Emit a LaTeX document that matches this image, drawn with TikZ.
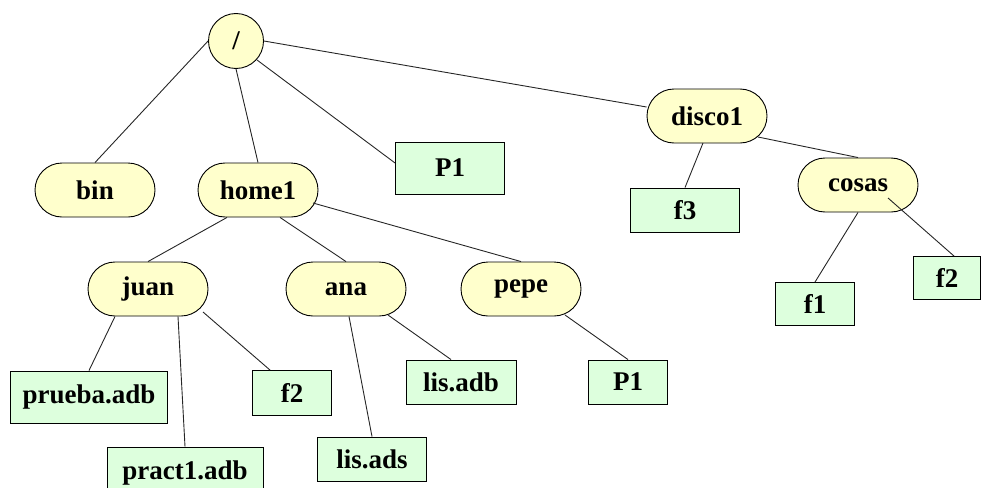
\documentclass[tikz,border=0pt]{standalone}
\usepackage{fontspec}
\setmainfont{Liberation Serif}
\usetikzlibrary{shapes.misc,calc}
\definecolor{dirfill}{HTML}{FFFFCC}
\definecolor{filefill}{HTML}{DDFFDD}
\begin{document}
\begin{tikzpicture}[x=1pt,y=-1pt,
  every node/.style={font=\fontsize{27}{30}\selectfont\bfseries, inner sep=0pt},
  dirnode/.style={rounded rectangle, draw=black, line width=0.9pt, fill=dirfill, minimum width=120pt, minimum height=54pt},
  rootnode/.style={circle, draw=black, line width=0.9pt, fill=dirfill, minimum size=55pt},
  filenode/.style={rectangle, draw=black, line width=0.9pt, fill=filefill},
  link/.style={line width=0.9pt, draw=black!85}]
\useasboundingbox (0,0) rectangle (981,487);
\clip (0,0) rectangle (981,487);
% edges drawn first (behind nodes)
\node[rootnode] (root) at (236,41) {/};
\node[dirnode] (bin) at (95,190) {bin};
\node[dirnode] (home1) at (258,190) {home1};
\node[dirnode] (disco1) at (707,116) {disco1};
\node[dirnode] (cosas) at (858,185) {cosas};
\node[dirnode] (juan) at (148,289) {juan};
\node[dirnode] (ana) at (346,289) {ana};
\node[dirnode] (pepe) at (521,289) {pepe};
\node[filenode, minimum width=109pt, minimum height=52pt] (P1a) at (450,168) {P1};
\node[filenode, minimum width=109pt, minimum height=44pt] (f3) at (685,210) {f3};
\node[filenode, minimum width=79pt, minimum height=43pt] (f1) at (815,304) {f1};
\node[filenode, minimum width=67pt, minimum height=43pt] (f2b) at (947,278) {f2};
\node[filenode, minimum width=157pt, minimum height=52pt] (prueba) at (89,397) {prueba.adb};
\node[filenode, minimum width=156pt, minimum height=52pt] (pract1) at (185,473) {pract1.adb};
\node[filenode, minimum width=79pt, minimum height=45pt] (f2a) at (292,393) {f2};
\node[filenode, minimum width=110pt, minimum height=44pt] (lisadb) at (461,382) {lis.adb};
\node[filenode, minimum width=109pt, minimum height=44pt] (lisads) at (372,459) {lis.ads};
\node[filenode, minimum width=79pt, minimum height=44pt] (P1b) at (628,382) {P1};
\begin{scope}[link]
\draw (root.west) -- (bin.north);
\draw (root.south) -- (home1.north);
\draw ($(root)+(21,19)$) -- ($(P1a.west)+(0,-5)$);
\draw (root.east) -- ($(disco1.west)+(0,-9)$);
\draw ($(disco1)+(-4,27)$) -- (f3.north);
\draw ($(disco1)+(51,21)$) -- (cosas.north);
\draw (cosas.south) -- (f1.north);
\draw ($(cosas)+(30,13)$) -- ($(f2b.north)+(7,0)$);
\draw ($(home1.south)+(-31,0)$) -- (juan.north);
\draw ($(home1.south)+(22,0)$) -- (ana.north);
\draw ($(home1)+(55,13)$) -- (pepe.north);
\draw ($(juan.south)+(-33,0)$) -- (prueba.north);
\draw ($(juan.south)+(30,0)$) -- (pract1.north);
\draw ($(juan)+(55,23)$) -- ($(f2a.north)+(-22,0)$);
\draw ($(ana.south)+(3,0)$) -- (lisads.north);
\draw ($(ana)+(42,26)$) -- ($(lisadb.north)+(-10,0)$);
\draw ($(pepe)+(44,26)$) -- (P1b.north);
\end{scope}
\end{tikzpicture}
\end{document}
